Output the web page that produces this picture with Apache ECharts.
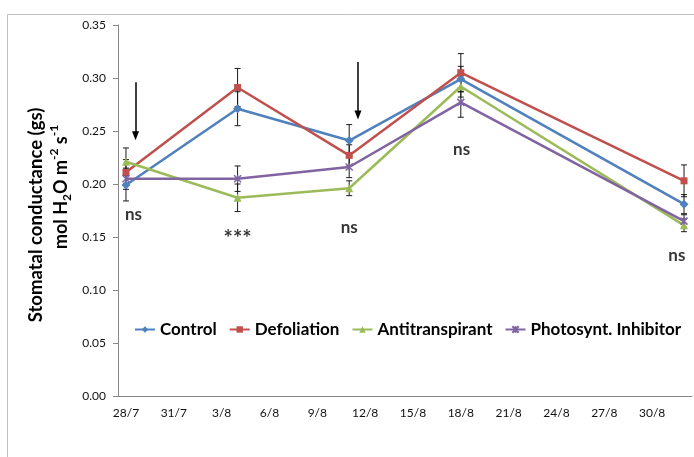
<!DOCTYPE html>
<html><head><meta charset="utf-8">
<script src="https://cdn.jsdelivr.net/npm/echarts@6/dist/echarts.min.js"></script>
<style>html,body{margin:0;padding:0;background:#fff}#c{width:694px;height:457px}</style>
</head><body><div id="c"></div>
<script>
// ---- data ----
const categories = ['28/7','29/7','30/7','31/7','1/8','2/8','3/8','4/8','5/8','6/8','7/8','8/8','9/8','10/8','11/8','12/8','13/8','14/8','15/8','16/8','17/8','18/8','19/8','20/8','21/8','22/8','23/8','24/8','25/8','26/8','27/8','28/8','29/8','30/8','31/8','1/9'];
const sampleDates = ['28/7','4/8','11/8','18/8','1/9'];
const seriesNames = ['Control','Defoliation','Antitranspirant','Photosynt. Inhibitor'];
const control = [0.199,0.271,0.241,0.299,0.181];
const controlErr = [0.015,0.016,0.015,0.012,0.009];
const defoliation = [0.211,0.291,0.227,0.305,0.203];
const defoliationErr = [0.012,0.018,0.010,0.018,0.015];
const antitranspirant = [0.221,0.187,0.196,0.292,0.161];
const antitranspirantErr = [0.013,0.013,0.007,0.010,0.006];
const photosynt = [0.205,0.205,0.216,0.277,0.165];
const photosyntErr = [0.010,0.012,0.010,0.014,0.006];
const yMin = 0, yMax = 0.35, yStep = 0.05;
// significance annotations (x in days from axis start, y in axis units)
const annotTexts = ['ns','***','ns','ns','ns'];
const annotX = [0.97, 7.5, 14.5, 21.55, 35.05];
const annotY = [0.171, 0.148, 0.159, 0.2325, 0.133];
// arrows
const arrowX = [1.1, 15.05];
const arrowFrom = [0.296, 0.315];
const arrowTo = [0.2455, 0.265];

// ---- chart ----
const FONT = 'Lato, "Noto Sans", sans-serif';
const colors = ['#4F81BD','#C0504D','#9BBB59','#8064A2'];
const symbols = ['diamond','rect','triangle','path://M0,0L10,10M10,0L0,10M5,0L5,10'];
const symbolSizes = [9, 7, 8, 7];
const values = [control, defoliation, antitranspirant, photosynt];
const errs = [controlErr, defoliationErr, antitranspirantErr, photosyntErr];

const lineSeries = seriesNames.map((name, i) => ({
  name, type: 'line', xAxisIndex: 0, yAxisIndex: 0,
  data: sampleDates.map((d, j) => [d, values[i][j]]),
  symbol: symbols[i], symbolSize: symbolSizes[i], showSymbol: true,
  lineStyle: { color: colors[i], width: 2.5 },
  itemStyle: { color: colors[i], borderColor: colors[i], borderWidth: i === 3 ? 1.5 : 0 },
  z: 3 + i, silent: true
}));

const errData = [];
values.forEach((vals, i) => vals.forEach((v, j) => errData.push([sampleDates[j], v - errs[i][j], v + errs[i][j]])));

const errSeries = {
  type: 'custom', xAxisIndex: 0, yAxisIndex: 0, z: 2, silent: true,
  data: errData,
  encode: { x: 0, y: [1, 2] },
  renderItem: (params, api) => {
    const x = api.value(0);
    const lo = api.coord([x, api.value(1)]);
    const hi = api.coord([x, api.value(2)]);
    const w = 3;
    const st = { stroke: '#1a1a1a', lineWidth: 1 };
    return { type: 'group', children: [
      { type: 'line', shape: { x1: lo[0], y1: lo[1], x2: hi[0], y2: hi[1] }, style: st },
      { type: 'line', shape: { x1: hi[0] - w, y1: hi[1], x2: hi[0] + w, y2: hi[1] }, style: st },
      { type: 'line', shape: { x1: lo[0] - w, y1: lo[1], x2: lo[0] + w, y2: lo[1] }, style: st }
    ]};
  }
};

const annotSeries = {
  type: 'scatter', xAxisIndex: 1, yAxisIndex: 0, silent: true, z: 10,
  symbolSize: 1, itemStyle: { color: 'rgba(0,0,0,0)' },
  data: annotX.map((x, i) => ({ value: [x, annotY[i]],
    label: { formatter: annotTexts[i], fontSize: annotTexts[i] === '***' ? 22 : 17 } })),
  label: { show: true, position: 'inside', fontSize: 17, fontWeight: 'bold', color: '#000', fontFamily: FONT },
  markLine: {
    silent: true, animation: false,
    symbol: ['none', 'triangle'], symbolSize: [7, 9],
    lineStyle: { color: '#000', width: 1.5, type: 'solid' },
    label: { show: false },
    emphasis: { disabled: true },
    data: arrowX.map((x, i) => [{ coord: [x, arrowFrom[i]] }, { coord: [x, arrowTo[i]] }])
  }
};

const axisGray = '#868686';
const option = {
  animation: false,
  textStyle: { fontFamily: FONT },
  grid: { left: 118, top: 25, width: 574, height: 371 },
  legend: {
    data: seriesNames, left: 134, top: 321, width: 620, padding: 0,
    itemWidth: 20, itemHeight: 8, itemGap: 12,
    textStyle: { fontFamily: FONT, fontSize: 17, fontWeight: 'bold', color: '#000' },
    selectedMode: false
  },
  xAxis: [
    { type: 'category', data: categories, boundaryGap: true,
      axisLine: { lineStyle: { color: axisGray } },
      axisTick: { interval: 2, length: 5, lineStyle: { color: axisGray } },
      axisLabel: { interval: 2, color: '#111', fontSize: 12, margin: 11, fontFamily: FONT },
      splitLine: { show: false } },
    { type: 'value', min: 0, max: 36, show: false }
  ],
  yAxis: {
    type: 'value', min: yMin, max: yMax, interval: yStep,
    axisLine: { show: true, lineStyle: { color: axisGray } },
    axisTick: { show: true, length: 5, lineStyle: { color: axisGray } },
    axisLabel: { formatter: v => v.toFixed(2), color: '#111', fontSize: 12, margin: 12, fontFamily: FONT },
    splitLine: { show: false }
  },
  graphic: [
    { type: 'rect', silent: true, z: -10, shape: { x: 7.5, y: 14.5, width: 1000, height: 1000 },
      style: { fill: 'none', stroke: '#BFBFBF', lineWidth: 1 } },
    { type: 'text', x: 36, y: 215, rotation: Math.PI / 2, silent: true,
      style: { text: 'Stomatal conductance (gs)', font: 'bold 18.5px ' + FONT, fill: '#000', align: 'center', verticalAlign: 'middle' } },
    { type: 'text', x: 61, y: 187, rotation: Math.PI / 2, silent: true,
      style: { text: '{m|mol H}{sub|2}{m|O m}{sup|-2}{m| s}{sup|-1}', align: 'center', verticalAlign: 'middle',
        rich: {
          m: { fontFamily: FONT, fontSize: 18, fontWeight: 'bold', color: '#000', lineHeight: 25 },
          sub: { fontFamily: FONT, fontSize: 12, fontWeight: 'bold', color: '#000', lineHeight: 13, verticalAlign: 'bottom' },
          sup: { fontFamily: FONT, fontSize: 12, fontWeight: 'bold', color: '#000', lineHeight: 13, verticalAlign: 'top' }
        } } }
  ],
  series: [errSeries, ...lineSeries, annotSeries]
};
const chart = echarts.init(document.getElementById('c'), null, { renderer: 'canvas' });
chart.setOption(option);
</script>
</body></html>
